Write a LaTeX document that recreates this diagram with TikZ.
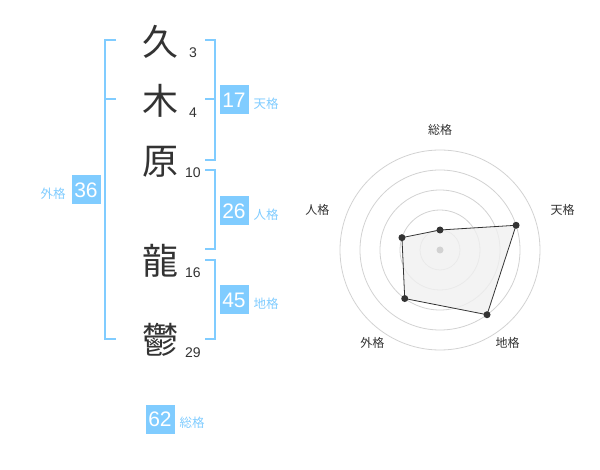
\documentclass[tikz,border=0pt]{standalone}
\usepackage{fontspec}
\setmainfont{Liberation Sans}
\newfontfamily\jpfont{Noto Sans CJK JP}
\definecolor{kakublue}{RGB}{128,204,255}
\definecolor{inkgray}{RGB}{51,51,51}

\begin{document}
\begin{tikzpicture}[x=1pt,y=-1pt,semithick]
\tikzstyle{kanji}=[text=inkgray,font=\jpfont\fontsize{36}{36}\selectfont,inner sep=0pt]
\tikzstyle{strokenum}=[text=inkgray,font=\fontsize{14}{14}\selectfont,inner sep=0pt]
\tikzstyle{kakubox}=[fill=kakublue,text=white,minimum size=29pt,inner sep=0pt,font=\fontsize{21}{21}\selectfont]
\tikzstyle{kakuname}=[text=kakublue,font=\jpfont\fontsize{12.5}{12.5}\selectfont,inner sep=0pt]
\tikzstyle{bracket}=[draw=kakublue,line width=2pt]
\tikzstyle{axislabel}=[text=inkgray,font=\jpfont\fontsize{12}{12}\selectfont,inner sep=0pt]
\tikzstyle{dot}=[circle,fill=inkgray,inner sep=0pt,minimum size=7pt]
\useasboundingbox (0,0) rectangle (600,470);

% name and stroke counts
\node[kanji] (k1) at (160,42) {久};
\node[kanji] (k2) at (160,101) {木};
\node[kanji] (k3) at (160,162) {原};
\node[kanji] (k4) at (160,261) {龍};
\node[kanji] (k5) at (160,340) {鬱};
\node[strokenum] (s1) at (193,53) {3};
\node[strokenum] (s2) at (193,113) {4};
\node[strokenum] (s3) at (193,173) {10};
\node[strokenum] (s4) at (193,273) {16};
\node[strokenum] (s5) at (193,353) {29};

% brackets
\draw[bracket] (116,40) -- (105,40) -- (105,339) -- (116,339);
\draw[bracket] (105,99) -- (116,99);
\draw[bracket] (205,40) -- (215,40) -- (215,160) -- (205,160);
\draw[bracket] (205,99) -- (215,99);
\draw[bracket] (205,170) -- (215,170) -- (215,249) -- (205,249);
\draw[bracket] (205,260) -- (215,260) -- (215,339) -- (205,339);

% scores
\node[kakubox] (ten) at (234,100) {17};
\node[kakuname] (tenl) at (266,104) {天格};
\node[kakubox] (jin) at (234,211) {26};
\node[kakuname] (jinl) at (266,215) {人格};
\node[kakubox] (chi) at (234,300) {45};
\node[kakuname] (chil) at (266,304) {地格};
\node[kakubox] (gai) at (86,190) {36};
\node[kakuname] (gail) at (53,194) {外格};
\node[kakubox] (sou) at (160,419) {62};
\node[kakuname] (soul) at (192,423) {総格};

% radar chart
\coordinate (c) at (440,250);
\foreach \r in {20,40,...,100}
  \draw[gray!35,line width=0.8pt] (c) circle (\r);
\coordinate (p1) at ([shift={(-90:20)}]c);
\coordinate (p2) at ([shift={(-18:80)}]c);
\coordinate (p3) at ([shift={(54:80)}]c);
\coordinate (p4) at ([shift={(126:60)}]c);
\coordinate (p5) at ([shift={(-162:40)}]c);
\filldraw[fill=gray!12,fill opacity=0.8,draw=inkgray,line width=0.8pt] (p1) -- (p2) -- (p3) -- (p4) -- (p5) -- cycle;
\node[circle,fill=gray!35,inner sep=0pt,minimum size=7pt] (c0) at (c) {};
\foreach \p in {p1,p2,p3,p4,p5}
  \node[dot] at (\p) {};
\node[axislabel] (a1) at ([shift={(-90:120)}]c) {総格};
\node[axislabel] (a2) at ([shift={(-18:129)}]c) {天格};
\node[axislabel] (a3) at ([shift={(54:115)}]c) {地格};
\node[axislabel] (a4) at ([shift={(126:115)}]c) {外格};
\node[axislabel] (a5) at ([shift={(-162:129)}]c) {人格};
\end{tikzpicture}
\end{document}
